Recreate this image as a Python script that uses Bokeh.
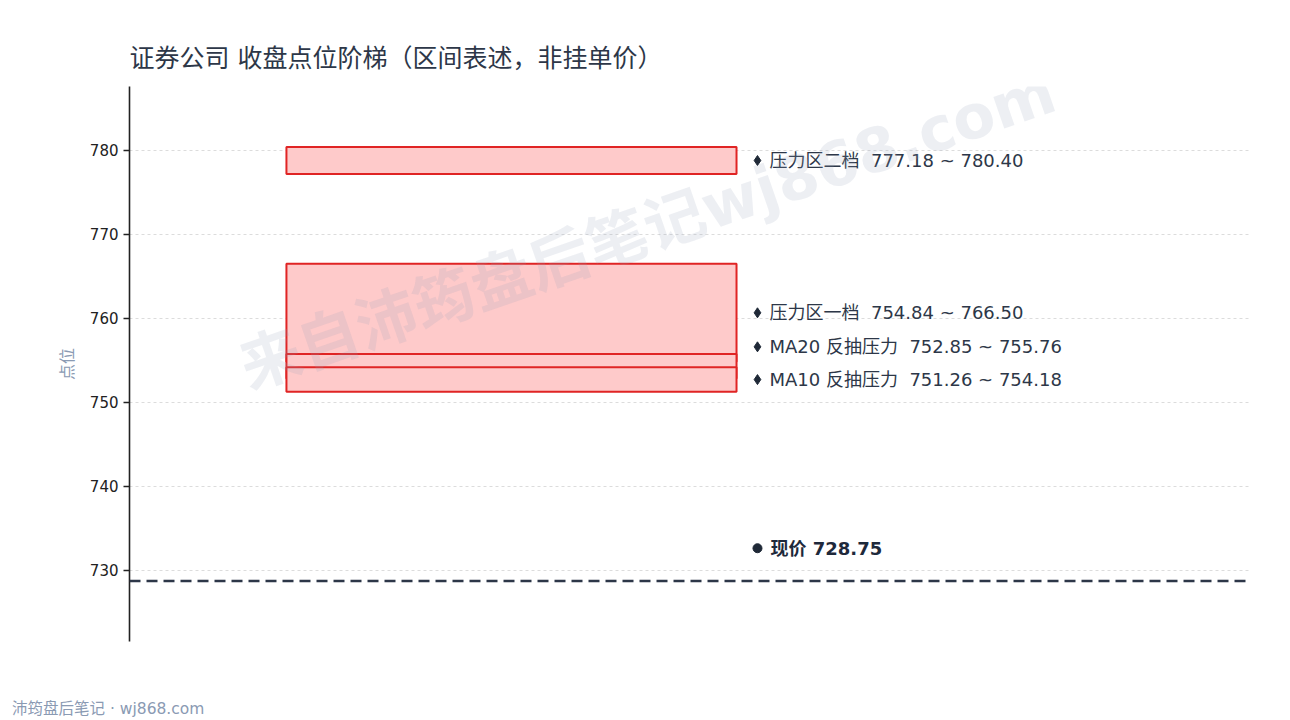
from bokeh.plotting import figure
from bokeh.models import Range1d, Span, Label, ColumnDataSource, FixedTicker, Div
from bokeh.layouts import column
from bokeh.core.properties import value
from bokeh.embed import file_html
from bokeh.resources import INLINE

# ---- data ----
zone_names = ["压力区一档", "MA20 反抽压力", "MA10 反抽压力", "压力区二档"]
zone_low = [754.84, 752.85, 751.26, 777.18]
zone_high = [766.50, 755.76, 754.18, 780.40]
current_price = 728.75
y_ticks = [730, 740, 750, 760, 770, 780]
title_text = "证券公司 收盘点位阶梯（区间表述，非挂单价）"
axis_title = "点位"
footer_text = "沛筠盘后笔记 · wj868.com"
watermark_text = "来自沛筠盘后笔记wj868.com"

FONT = "DejaVu Sans, Noto Sans CJK SC"
DARK = "#1f2937"
SP = "\u00a0\u00a0"

# ---- label placement with simple anti-overlap ----
min_gap = 3.9
mids = [(lo + hi) / 2 for lo, hi in zip(zone_low, zone_high)]
order = sorted(range(len(mids)), key=lambda i: mids[i])
label_y = [0.0] * len(mids)
prev = None
for i in order:
    y = mids[i] if prev is None else max(mids[i], prev + min_gap)
    label_y[i] = y
    prev = y
label_text = [f"{n}{SP}{lo:.2f} ~ {hi:.2f}" for n, lo, hi in zip(zone_names, zone_low, zone_high)]

p = figure(width=1274, height=694, output_backend="svg", toolbar_location=None,
           x_range=Range1d(0, 1), y_range=Range1d(721.55, 787.6),
           min_border_left=129, min_border_right=24, min_border_top=86, min_border_bottom=53)
p.outline_line_color = None
p.background_fill_color = "white"
p.border_fill_color = "white"

p.title.text = title_text
p.title.text_font = FONT
p.title.text_font_size = "25px"
p.title.text_font_style = "normal"
p.title.text_color = "#2d3748"
p.title.align = "left"
p.title.standoff = 27

p.xaxis.visible = False
p.xgrid.visible = False
p.ygrid.grid_line_color = "#dcdcdc"
p.ygrid.grid_line_dash = "3 3"
p.ygrid.grid_line_width = 1
p.yaxis.ticker = FixedTicker(ticks=y_ticks)
p.yaxis.minor_tick_line_color = None
p.yaxis.axis_line_color = "#222222"
p.yaxis.axis_line_width = 1.6
p.yaxis.major_tick_line_color = "#222222"
p.yaxis.major_tick_line_width = 1.6
p.yaxis.major_tick_out = 6
p.yaxis.major_tick_in = 0
p.yaxis.major_label_text_font = FONT
p.yaxis.major_label_text_font_size = "15px"
p.yaxis.major_label_text_color = "#222222"
p.yaxis.axis_label = axis_title
p.yaxis.axis_label_text_font = FONT
p.yaxis.axis_label_text_font_size = "16px"
p.yaxis.axis_label_text_font_style = "normal"
p.yaxis.axis_label_text_color = "#8a9ab3"
p.yaxis.axis_label_standoff = 10

# zones
src = ColumnDataSource(dict(low=zone_low, high=zone_high))
p.quad(left=0.14, right=0.5415, bottom="low", top="high", source=src,
       fill_color="#fecaca", fill_alpha=1.0, line_color="#e02424", line_width=2)

# current price line
p.add_layout(Span(location=current_price, dimension="width", line_color="#2d3748",
                  line_width=2.5, line_dash="11 6"))

# watermark
p.add_layout(Label(x=0.462, y=770.6, text=watermark_text, angle=0.333,
                   text_font=FONT, text_font_style="bold", text_font_size="61px",
                   text_color="#94a3b8", text_alpha=0.17, text_align="center",
                   text_baseline="middle"))

# zone labels
lx = [0.5602] * len(label_y)
p.scatter(x=lx, y=label_y, marker="diamond", size=10, color=DARK)
p.text(x=lx, y=label_y, text=label_text, x_offset=12, text_font=value(FONT),
       text_font_size="18px", text_color="#2d3748", text_align="left", text_baseline="middle")

# current price label
cp_y = current_price + min_gap
p.scatter(x=[0.5602], y=[cp_y], marker="circle", size=9, color=DARK)
p.text(x=[0.5602], y=[cp_y], text=[f"现价 {current_price:.2f}"], x_offset=13,
       text_font=value(FONT), text_font_style="bold", text_font_size="18px",
       text_color="#1e293b", text_align="left", text_baseline="middle")

# footer
footer = Div(text=footer_text, width=400, height=24,
             styles={"font-family": FONT, "font-size": "15.5px", "color": "#8a9ab3",
                     "line-height": "20px", "padding-top": "0px", "margin-left": "12px",
                     "white-space": "nowrap"})

layout = column(p, footer, spacing=0)
open("out.html", "w").write(file_html(layout, INLINE))
